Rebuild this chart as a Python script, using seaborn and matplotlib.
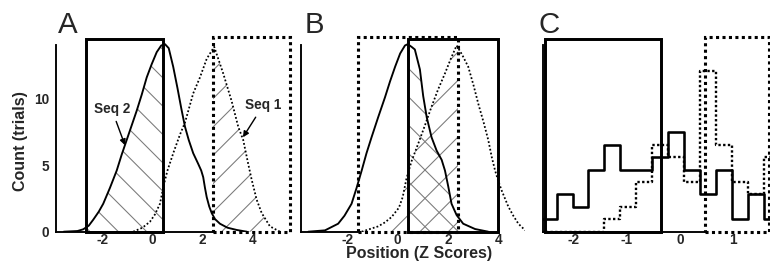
import matplotlib
matplotlib.use("Agg")
import matplotlib.pyplot as plt
from matplotlib.patches import Rectangle
import numpy as np
import seaborn as sns

# ---- panel A: smoothed position distributions ----
a_seq2_x = [-3.55, -3.0, -2.77, -2.55, -2.37, -2.15, -1.97, -1.7, -1.43, -1.23, -1.03,
            -0.83, -0.63, -0.43, -0.23, -0.03, 0.17, 0.35, 0.5, 0.65, 0.83, 1.0, 1.15,
            1.3, 1.45, 1.63, 1.83, 1.95, 2.03, 2.1, 2.17, 2.27, 2.37, 2.5, 2.7, 3.0,
            3.37, 3.77]
a_seq2_y = [0, 0.05, 0.18, 0.45, 0.9, 1.5, 2.1, 3.3, 4.6, 5.8, 6.9, 8.0, 9.1, 10.3, 11.6,
            12.6, 13.5, 14.0, 14.1, 13.8, 12.4, 10.8, 9.3, 7.9, 6.9, 5.9, 5.1, 4.6, 4.1,
            3.3, 2.6, 1.9, 1.4, 0.95, 0.6, 0.3, 0.13, 0]
a_seq1_x = [-0.77, -0.4, -0.1, 0.1, 0.3, 0.45, 0.6, 0.85, 1.1, 1.3, 1.63, 1.9, 2.17, 2.47,
            2.83, 3.17, 3.43, 3.63, 3.83, 3.97, 4.17, 4.37, 4.7, 5.1]
a_seq1_y = [0, 0.3, 0.75, 1.3, 2.1, 3.5, 4.6, 6.0, 7.3, 8.2, 10.4, 11.6, 13.0, 13.9, 11.9,
            9.8, 7.9, 6.9, 5.1, 3.9, 2.4, 1.4, 0.4, 0]
a_box_seq2 = (-2.66, 0.43)
a_box_seq1 = (2.43, 5.5)

# ---- panel B ----
b_seq2_x = [-3.53, -2.87, -2.35, -2.1, -1.82, -1.62, -1.42, -1.23, -1.03, -0.77, -0.5, -0.3,
            -0.1, 0.1, 0.29, 0.4, 0.55, 0.68, 0.88, 1.01, 1.15, 1.34, 1.54, 1.74, 1.87, 2.0,
            2.13, 2.33, 2.59, 3.06, 3.58]
b_seq2_y = [0, 0.1, 0.6, 1.2, 2.1, 3.3, 4.6, 5.9, 7.1, 8.6, 10.1, 11.3, 12.4, 13.4, 14.0,
            14.1, 13.9, 13.7, 12.2, 10.2, 8.6, 7.1, 6.1, 5.4, 4.6, 3.4, 2.1, 1.25, 0.6, 0.2, 0]
b_seq1_x = [-1.42, -0.77, -0.5, -0.24, 0.05, 0.2, 0.35, 0.55, 0.81, 1.08, 1.34, 1.6, 1.87,
            2.1, 2.33, 2.55, 2.79, 3.0, 3.19, 3.4, 3.58, 3.72, 3.85, 3.98, 4.11, 4.24, 4.37,
            4.57, 4.77, 5.04]
b_seq1_y = [0, 0.4, 0.7, 1.1, 1.8, 2.6, 4.0, 5.3, 6.6, 8.0, 9.4, 10.7, 11.9, 13.0, 14.0,
            13.3, 12.4, 11.0, 9.6, 8.2, 6.9, 5.6, 4.6, 3.8, 3.1, 2.5, 1.9, 1.2, 0.6, 0.1]
b_box_seq2 = (0.4, 3.98)
b_box_seq1 = (-1.56, 2.37)

# ---- panel C: binned counts ----
c_edges = [-2.62, -2.32, -2.02, -1.72, -1.42, -1.12, -0.82, -0.52, -0.22, 0.08, 0.38,
           0.68, 0.98, 1.28, 1.58, 1.88]
c_seq2 = [0.93, 2.8, 1.87, 4.67, 6.53, 4.67, 4.67, 5.6, 7.47, 4.67, 2.8, 4.67, 0.93, 2.8, 0.93]
c_seq1 = [0, 0, 0, 0, 0.93, 1.87, 3.73, 6.53, 5.6, 3.73, 12.1, 6.53, 3.73, 2.8, 5.6]
c_box_seq2 = (-2.53, -0.36)
c_box_seq1 = (0.46, 1.67)

HATCH = "#7a7a7a"
BOX_TOP = 14.5
DOT_TOP = 14.65

sns.set_style("white")
plt.rcParams["font.family"] = ["Liberation Sans", "DejaVu Sans"]
plt.rcParams["axes.unicode_minus"] = False
plt.rcParams["hatch.color"] = HATCH
plt.rcParams["hatch.linewidth"] = 0.9

DPI = 85
fig = plt.figure(figsize=(770 / DPI, 269 / DPI), dpi=DPI)
axA = fig.add_axes([0.0727, 0.1387, 0.3071, 0.7416])
axB = fig.add_axes([0.3905, 0.1387, 0.2919, 0.7416])
axC = fig.add_axes([0.7048, 0.1387, 0.2952, 0.7416])

solid_kw = dict(color="black", linewidth=1.6)
dot_kw = dict(color="black", linewidth=1.5, linestyle=(0, (1, 1.2)))


def hatched(ax, x, y, span, hatch):
    poly = ax.fill_between(x, y, 0, facecolor="none", edgecolor=HATCH,
                           linewidth=0, hatch=hatch, zorder=1)
    poly.set_clip_path(Rectangle((span[0], 0), span[1] - span[0], 20,
                                 transform=ax.transData))


def box(ax, span, dotted):
    if dotted:
        r = Rectangle((span[0], 0), span[1] - span[0], DOT_TOP, fill=False,
                      edgecolor="black", linewidth=2.6, linestyle=(0, (1, 1.1)),
                      capstyle="butt", clip_on=False, zorder=4)
    else:
        r = Rectangle((span[0], 0), span[1] - span[0], BOX_TOP, fill=False,
                      edgecolor="black", linewidth=2.5, clip_on=False, zorder=5)
    ax.add_patch(r)


# panel A
sns.lineplot(x=a_seq2_x, y=a_seq2_y, sort=False, estimator=None, ax=axA, **solid_kw)
sns.lineplot(x=a_seq1_x, y=a_seq1_y, sort=False, estimator=None, ax=axA, **dot_kw)
hatched(axA, a_seq2_x, a_seq2_y, a_box_seq2, "\\")
hatched(axA, a_seq1_x, a_seq1_y, a_box_seq1, "/")
box(axA, a_box_seq2, False)
box(axA, a_box_seq1, True)
axA.set_xlim(-3.86, 5.6)
axA.spines["bottom"].set_bounds(-3.86, a_box_seq1[0])

bold = dict(fontsize=11.5, fontweight="bold")
axA.annotate("Seq 2", xy=(-1.1, 6.5), xytext=(-1.63, 9.2), ha="center", va="center",
             arrowprops=dict(arrowstyle="-|>", color="black", lw=1.2, mutation_scale=10,
                             shrinkB=0), **bold)
axA.annotate("Seq 1", xy=(3.62, 7.1), xytext=(4.43, 9.5), ha="center", va="center",
             arrowprops=dict(arrowstyle="-|>", color="black", lw=1.2, mutation_scale=10,
                             shrinkB=0), **bold)

# panel B
sns.lineplot(x=b_seq2_x, y=b_seq2_y, sort=False, estimator=None, ax=axB, **solid_kw)
sns.lineplot(x=b_seq1_x, y=b_seq1_y, sort=False, estimator=None, ax=axB, **dot_kw)
hatched(axB, b_seq2_x, b_seq2_y, b_box_seq2, "\\")
hatched(axB, b_seq1_x, b_seq1_y, b_box_seq1, "/")
box(axB, b_box_seq1, True)
box(axB, b_box_seq2, False)
axB.set_xlim(-3.83, 5.05)
axB.spines["bottom"].set_bounds(-3.83, b_box_seq1[0])

# panel C
c_centers = [(lo + hi) / 2 for lo, hi in zip(c_edges[:-1], c_edges[1:])]
sns.histplot(x=c_centers, weights=c_seq2, bins=c_edges, element="step", fill=False,
             color="black", linewidth=2.2, ax=axC)
sns.histplot(x=c_centers, weights=c_seq1, bins=c_edges, element="step", fill=False,
             color="black", linewidth=2.0, linestyle=(0, (1, 1)), ax=axC)
box(axC, c_box_seq2, False)
box(axC, c_box_seq1, True)
axC.set_xlim(-2.58, 1.69)
axC.spines["bottom"].set_bounds(-2.58, c_box_seq1[0])

axA.set_xticks([-2, 0, 2, 4])
axB.set_xticks([-2, 0, 2, 4])
axC.set_xticks([-2, -1, 0, 1])
axA.set_yticks([0, 5, 10])
axB.set_yticks([5, 10])
axC.set_yticks([5, 10])

for ax in (axA, axB, axC):
    ax.set_ylim(0, 15)
    ax.set_xlabel("")
    ax.set_ylabel("")
    for side in ("top", "right"):
        ax.spines[side].set_visible(False)
    for side in ("left", "bottom"):
        ax.spines[side].set_linewidth(1.6)
        ax.spines[side].set_color("black")
    ax.spines["left"].set_bounds(0, 14)
    ax.patch.set_alpha(0)
    ax.tick_params(axis="x", length=0, pad=1, labelsize=11.5)
    ax.tick_params(axis="y", length=3.5, width=1, pad=2.5, labelsize=11.5, color="black")

axB.tick_params(axis="y", direction="in", labelleft=False)
axC.tick_params(axis="y", direction="inout", labelleft=False)
for ax in (axA, axB, axC):
    for lab in ax.get_xticklabels() + ax.get_yticklabels():
        lab.set_fontweight("bold")

fig.text(0.0266, 0.477, "Count (trials)", rotation=90, ha="center", va="center",
         fontsize=13.5, fontweight="bold")
fig.text(0.5438, 0.042, "Position (Z Scores)", ha="center", va="baseline",
         fontsize=13.5, fontweight="bold")
for x, letter in [(0.0757, "A"), (0.396, "B"), (0.699, "C")]:
    fig.text(x, 0.876, letter, ha="left", va="baseline", fontsize=25)

fig.savefig("out.png", dpi=DPI)
